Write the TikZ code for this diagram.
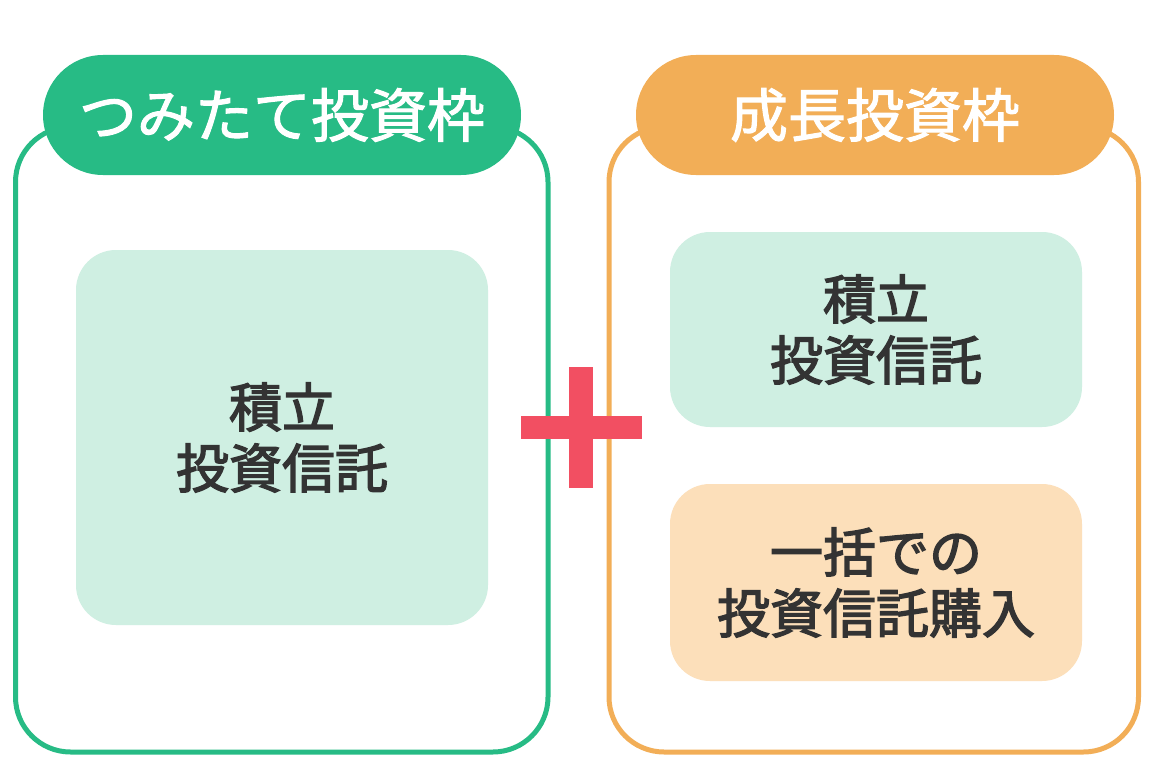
\documentclass[tikz,border=0pt]{standalone}
\usepackage{fontspec}
\newfontfamily\jp[FakeBold=1.8]{Noto Sans CJK JP}
\newfontfamily\jpb[FakeBold=2.6]{Noto Sans CJK JP}
\definecolor{cgreen}{HTML}{27BB85}
\definecolor{corange}{HTML}{F2AE57}
\definecolor{lgreen}{HTML}{CFEFE2}
\definecolor{lorange}{HTML}{FCDFBA}
\definecolor{cred}{HTML}{F24F62}
\definecolor{ctext}{HTML}{333333}
\tikzset{
  panel/.style={draw=#1, line width=5pt, rounded corners=55pt, fill=white},
  pill/.style={fill=#1, rounded corners=60pt, minimum height=120pt, minimum width=478pt, inner sep=0pt,
    text=white, font=\jp\fontsize{58}{60}\selectfont},
  inbox/.style={fill=#1, rounded corners=40pt, inner sep=0pt, minimum width=412pt, align=center,
    text=ctext, font=\jpb\fontsize{53}{61}\selectfont},
  bar/.style={fill=cred, inner sep=0pt}
}
\begin{document}
\begin{tikzpicture}[x=1pt,y=-1pt]
\useasboundingbox (0,0) rectangle (1160,760);
% outer panels
\draw[panel=cgreen] (15.5,127) rectangle (548,752);
\draw[panel=corange] (609,127) rectangle (1138.5,752);
% headers
\node[pill=cgreen] (h1) at (282,115) {つみたて投資枠};
\node[pill=corange] (h2) at (875,115) {成長投資枠};
% inner boxes
\node[inbox=lgreen, minimum height=375pt] (b1) at (282,437.5) {積立\\投資信託};
\node[inbox=lgreen, minimum height=195pt] (b2) at (876,329.5) {積立\\投資信託};
\node[inbox=lorange, minimum height=197pt] (b3) at (876,582.5) {一括での\\投資信託購入};
% plus sign
\node[bar, minimum width=24pt, minimum height=121pt] (pv) at (581,427.5) {};
\node[bar, minimum width=121pt, minimum height=23pt] (ph) at (581.5,427.5) {};
\end{tikzpicture}
\end{document}
